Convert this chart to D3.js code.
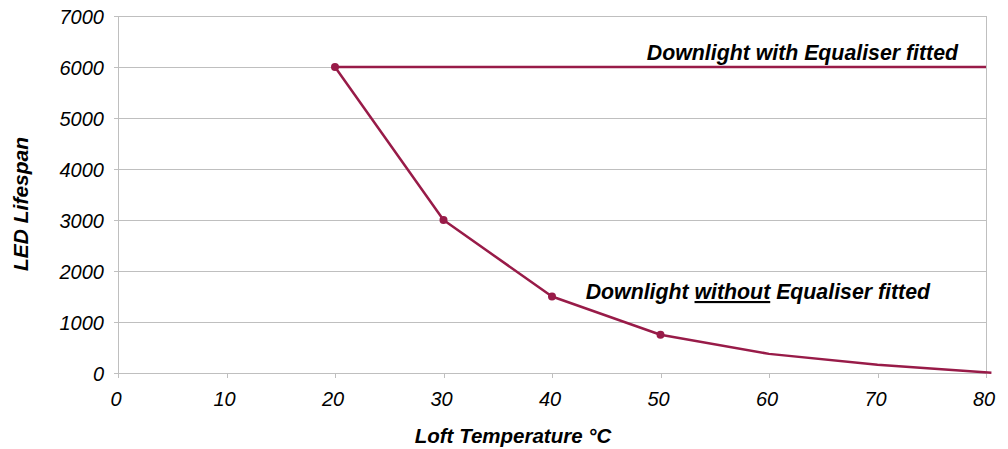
<!DOCTYPE html>
<html>
<head>
<meta charset="utf-8">
<script src="https://cdn.jsdelivr.net/npm/d3@7"></script>
<style>
  body { margin: 0; background: #fff; }
  text { font-family: "Liberation Sans", Arial, sans-serif; font-style: italic; }
</style>
</head>
<body>
<svg id="chart" width="1008" height="449"></svg>
<script>
// data
const temps = [20, 30, 40, 50, 60, 70, 80.5];
const withoutLife = [6000, 3000, 1500, 750, 375, 160, 5];
const markerCount = 4; // markers only on first four points
const withTemps = [20, 80];
const withLife = [6000, 6000];
const xTicks = [0, 10, 20, 30, 40, 50, 60, 70, 80];
const yTicks = [0, 1000, 2000, 3000, 4000, 5000, 6000, 7000];

const lineColor = '#981b48';
const gridColor = '#bfbfbf';

const svg = d3.select('#chart');

let x = d3.scaleLinear().domain([0, 80]).range([118, 986]);
let y = d3.scaleLinear().domain([0, 7000]).range([373, 16]);

// horizontal gridlines
svg.append('g')
    .selectAll('line')
    .data(yTicks)
    .join('line')
    .attr('x1', x(0) - 4)
    .attr('x2', x(80))
    .attr('y1', d => Math.round(y(d)) + 0.5)
    .attr('y2', d => Math.round(y(d)) + 0.5)
    .attr('stroke', gridColor)
    .attr('stroke-width', 1);

// left axis and right border
[0, 80].forEach(v => {
    svg.append('line')
        .attr('x1', Math.round(x(v)) + 0.5)
        .attr('x2', Math.round(x(v)) + 0.5)
        .attr('y1', y(7000))
        .attr('y2', y(0))
        .attr('stroke', gridColor);
});

// x ticks
svg.append('g')
    .selectAll('line')
    .data(xTicks)
    .join('line')
    .attr('x1', d => Math.round(x(d)) + 0.5)
    .attr('x2', d => Math.round(x(d)) + 0.5)
    .attr('y1', y(0))
    .attr('y2', y(0) + 5)
    .attr('stroke', gridColor);

// tick labels
svg.append('g')
    .selectAll('text')
    .data(yTicks)
    .join('text')
    .attr('x', 104)
    .attr('y', d => y(d) + 8)
    .attr('text-anchor', 'end')
    .attr('font-size', 20)
    .attr('fill', '#000')
    .text(d => d);

svg.append('g')
    .selectAll('text')
    .data(xTicks)
    .join('text')
    .attr('x', d => x(d) - 2)
    .attr('y', 406)
    .attr('text-anchor', 'middle')
    .attr('font-size', 20)
    .attr('fill', '#000')
    .text(d => d);

// axis titles
svg.append('text')
    .attr('x', 513)
    .attr('y', 443)
    .attr('text-anchor', 'middle')
    .attr('font-size', 20.5)
    .attr('font-weight', 'bold')
    .text('Loft Temperature °C');

svg.append('text')
    .attr('transform', `translate(28, 204) rotate(-90)`)
    .attr('text-anchor', 'middle')
    .attr('font-size', 21)
    .attr('font-weight', 'bold')
    .text('LED Lifespan');

// series
let line = d3.line()
    .x(d => x(d[0]))
    .y(d => y(d[1]));

svg.append('path')
    .datum(d3.zip(withTemps, withLife))
    .attr('d', line)
    .attr('fill', 'none')
    .attr('stroke', lineColor)
    .attr('stroke-width', 2.5);

svg.append('path')
    .datum(d3.zip(temps, withoutLife))
    .attr('d', line)
    .attr('fill', 'none')
    .attr('stroke', lineColor)
    .attr('stroke-width', 2.5)
    .attr('stroke-linejoin', 'round');

svg.append('g')
    .selectAll('circle')
    .data(d3.zip(temps, withoutLife).slice(0, markerCount))
    .join('circle')
    .attr('cx', d => x(d[0]))
    .attr('cy', d => y(d[1]))
    .attr('r', 4)
    .attr('fill', lineColor);

// annotations
svg.append('text')
    .attr('x', 958)
    .attr('y', 60)
    .attr('text-anchor', 'end')
    .attr('font-size', 21.3)
    .attr('font-weight', 'bold')
    .text('Downlight with Equaliser fitted');

let t2 = svg.append('text')
    .attr('x', 930)
    .attr('y', 299)
    .attr('text-anchor', 'end')
    .attr('font-size', 21.3)
    .attr('font-weight', 'bold');
t2.append('tspan').text('Downlight ');
t2.append('tspan').attr('text-decoration', 'underline').text('without');
t2.append('tspan').text(' Equaliser fitted');
</script>
</body>
</html>
